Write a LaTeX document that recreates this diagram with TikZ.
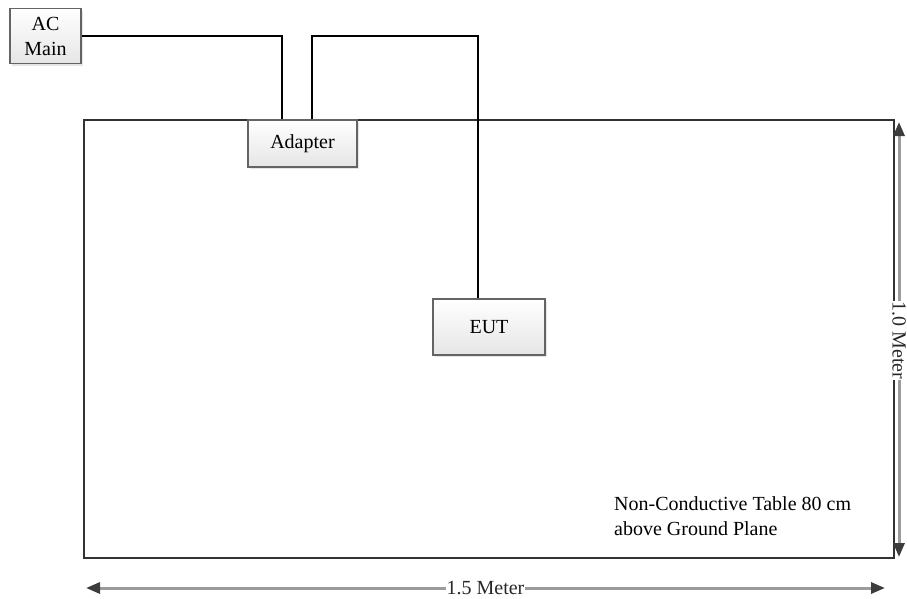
\documentclass[tikz,border=0pt]{standalone}
\usepackage{fontspec}
\setmainfont{Liberation Serif}
\usetikzlibrary{arrows.meta,shadows}

\tikzset{
  unitbox/.style={draw={rgb,255:red,100;green,100;blue,100}, line width=1.4pt,
    top color=white, bottom color=black!10, inner sep=0pt, align=center,
    drop shadow={shadow xshift=2pt, shadow yshift=-2pt, opacity=0.25, fill=black!40}},
  cable/.style={line width=1.4pt, black},
  dimline/.style={line width=3pt, color={rgb,255:red,155;green,155;blue,155},
    {Triangle[length=14pt,width=11pt,color={rgb,255:red,60;green,60;blue,60}]}-{Triangle[length=14pt,width=11pt,color={rgb,255:red,60;green,60;blue,60}]}},
  dimlabel/.style={fill=white, inner sep=1pt, text={rgb,255:red,40;green,40;blue,40}}
}

\begin{document}
\begin{tikzpicture}[x=1pt,y=1pt,yscale=-1,xscale=1,font=\fontsize{20}{25}\selectfont]
\useasboundingbox (0,0) rectangle (907,598);

%Shape: Rectangle [table]
\draw [line width=2.6pt, color={rgb,255:red,50;green,50;blue,50}] (84,120) rectangle (894,558);

%Shape: Rectangle [AC main]
\node [unitbox, minimum width=71pt, minimum height=55pt] (acmain) at (45.5,36) {AC\\Main};
%Shape: Rectangle [adapter]
\node [unitbox, minimum width=109pt, minimum height=47pt] (adapter) at (302.5,143.5) {Adapter};
%Shape: Rectangle [EUT]
\node [unitbox, minimum width=112pt, minimum height=56pt] (eut) at (489,327) {EUT};

%Straight Lines [mains cable]
\coordinate (adpin) at ([xshift=-20.5pt]adapter.north);
\coordinate (adpout) at ([xshift=9.5pt]adapter.north);
\coordinate (eutin) at ([xshift=-11pt]eut.north);
\coordinate (bend) at (0,36);
\draw [cable] (acmain.east) -| (adpin);
%Straight Lines [DC cable]
\draw [cable] (adpout) |- (bend -| eutin) -- (eutin);

% Text Node
\node [anchor=north west, inner sep=0pt, align=left] (note) at (614,496) {Non-Conductive Table 80 cm\\above Ground Plane};

%Straight Lines [dimensions]
\coordinate (vtop) at (899,122);
\coordinate (vbot) at (899,557);
\coordinate (hleft) at (86,588);
\coordinate (hright) at (885,588);
\draw [dimline] (vtop) -- (vbot) node [dimlabel, pos=0.502, rotate=-90] (vlabel) {1.0 Meter};
\draw [dimline] (hleft) -- (hright) node [dimlabel, pos=0.5, inner sep=0.5pt] (hlabel) {1.5 Meter};

\end{tikzpicture}
\end{document}
